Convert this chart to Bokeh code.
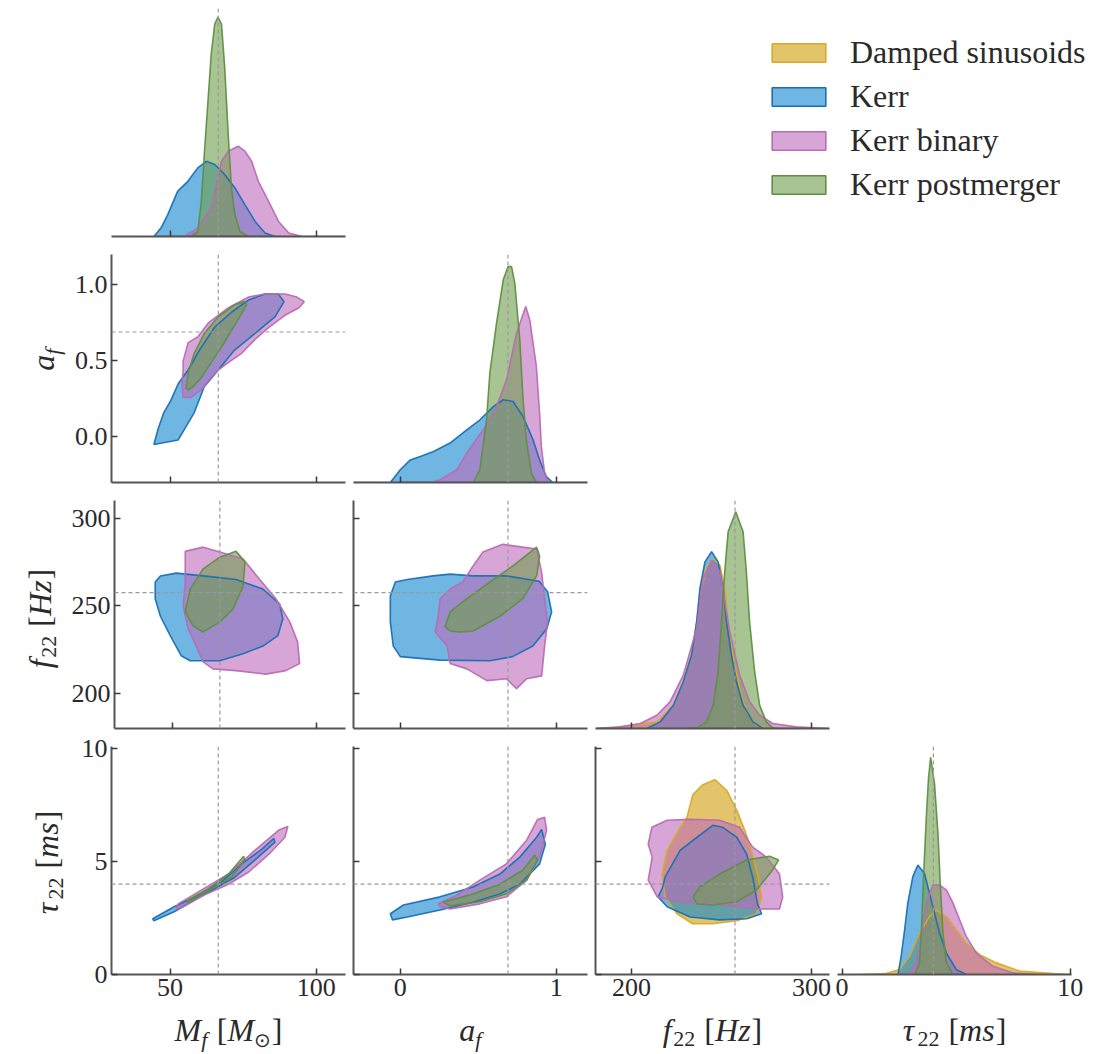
from math import pi
from bokeh.plotting import figure
from bokeh.layouts import row, column
from bokeh.models import (Range1d, Span, Legend, LegendItem, ColumnDataSource,
                          FixedTicker, NumeralTickFormatter)
from bokeh.embed import file_html
from bokeh.resources import INLINE

# ---------------------------------------------------------------- data
SERIES = ["Damped sinusoids", "Kerr", "Kerr binary", "Kerr postmerger"]
PARAMS = ["Mf", "af", "f22", "tau"]

TRUTH_MF = 66.5
TRUTH_AF = 0.69
TRUTH_F22 = 257.5
TRUTH_TAU = 4.0

MF_LIM = [30, 110]
AF_LIM = [-0.3, 1.2]
F22_LIM = [180, 310]
TAU_X_LIM = [-0.2, 10.05]
TAU_Y_LIM = [0, 10.1]

MF_TICKS = [50, 100]
AF_X_TICKS = [0, 1]
AF_Y_TICKS = [0.0, 0.5, 1.0]
F22_X_TICKS = [200, 300]
F22_Y_TICKS = [200, 250, 300]
TAU_X_TICKS = [0, 10]
TAU_Y_TICKS = [0, 5, 10]

# 1-D marginals (relative density, panel height = 1)
MF_KERR_X = [44.5, 46.9, 49.2, 52.6, 56.1, 59.5, 62.4, 65.3, 68.7, 72.2, 75.6, 79.1, 82.5, 86.0]
MF_KERR_D = [0.0, 0.037, 0.095, 0.198, 0.242, 0.301, 0.330, 0.316, 0.272, 0.213, 0.140, 0.066, 0.015, 0.0]
MF_BIN_X = [54.9, 59.5, 64.1, 67.6, 69.9, 73.3, 75.6, 77.9, 80.2, 83.7, 87.1, 90.6, 95.2, 110.0]
MF_BIN_D = [0.0, 0.037, 0.125, 0.330, 0.374, 0.396, 0.374, 0.330, 0.242, 0.154, 0.066, 0.015, 0.0, 0.0]
MF_PM_X = [57.2, 59.5, 60.7, 61.8, 63.0, 64.1, 65.3, 66.4, 67.6, 68.7, 69.9, 71.0, 72.2, 73.9, 76.8]
MF_PM_D = [0.0, 0.022, 0.154, 0.374, 0.595, 0.800, 0.932, 0.962, 0.932, 0.742, 0.448, 0.213, 0.095, 0.022, 0.0]

AF_KERR_X = [-0.064, 0.0, 0.064, 0.128, 0.213, 0.319, 0.426, 0.511, 0.596, 0.660, 0.723, 0.787, 0.851, 0.893, 0.936, 0.978]
AF_KERR_D = [0.0, 0.056, 0.099, 0.114, 0.136, 0.173, 0.231, 0.275, 0.333, 0.363, 0.355, 0.289, 0.187, 0.099, 0.026, 0.0]
AF_BIN_X = [-0.3, 0.2, 0.255, 0.362, 0.426, 0.532, 0.617, 0.681, 0.745, 0.804, 0.830, 0.872, 0.893, 0.904, 0.925, 0.947, 1.2]
AF_BIN_D = [0.0, 0.0, 0.012, 0.056, 0.129, 0.231, 0.333, 0.450, 0.655, 0.772, 0.713, 0.509, 0.304, 0.158, 0.041, 0.0, 0.0]
AF_PM_X = [0.468, 0.510, 0.553, 0.574, 0.617, 0.660, 0.691, 0.713, 0.734, 0.766, 0.787, 0.808, 0.840, 0.872]
AF_PM_D = [0.0, 0.055, 0.275, 0.480, 0.699, 0.889, 0.947, 0.947, 0.874, 0.626, 0.363, 0.187, 0.041, 0.0]

F22_DS_X = [181.0, 190.1, 214.1, 223.3, 228.8, 233.4, 236.2, 239.0, 241.7, 245.4, 249.1, 251.8, 253.7, 256.4, 260.1, 263.8, 269.3, 274.9, 300.0]
F22_DS_D = [0.0, 0.003, 0.029, 0.102, 0.205, 0.322, 0.468, 0.614, 0.709, 0.746, 0.716, 0.614, 0.468, 0.322, 0.175, 0.073, 0.015, 0.003, 0.0]
F22_KERR_X = [208.6, 216.0, 223.3, 228.8, 233.4, 236.2, 238.0, 240.8, 244.5, 248.1, 250.9, 252.8, 255.5, 258.3, 262.0, 267.5, 273.0]
F22_KERR_D = [0.0, 0.029, 0.102, 0.205, 0.322, 0.468, 0.614, 0.731, 0.775, 0.731, 0.614, 0.468, 0.322, 0.205, 0.102, 0.029, 0.0]
F22_BIN_X = [180.0, 193.8, 204.9, 214.1, 221.4, 228.8, 236.2, 239.8, 244.5, 249.1, 254.6, 260.1, 265.6, 271.2, 278.5, 291.4, 310.0]
F22_BIN_D = [0.0, 0.007, 0.022, 0.058, 0.117, 0.234, 0.439, 0.658, 0.738, 0.687, 0.424, 0.234, 0.117, 0.058, 0.022, 0.007, 0.0]
F22_PM_X = [230.0, 236.2, 241.7, 245.4, 248.1, 250.0, 251.8, 253.7, 257.9, 262.0, 263.8, 265.6, 268.4, 271.2, 274.9, 278.5, 282.0]
F22_PM_D = [0.0, 0.003, 0.029, 0.102, 0.249, 0.468, 0.687, 0.863, 0.950, 0.863, 0.687, 0.468, 0.249, 0.102, 0.029, 0.003, 0.0]

TAU_DS_X = [0.9, 1.93, 2.52, 2.96, 3.39, 3.83, 4.13, 4.57, 5.00, 5.44, 6.03, 6.76, 7.78, 9.24, 10.0]
TAU_DS_D = [0.0, 0.004, 0.022, 0.080, 0.182, 0.254, 0.283, 0.254, 0.196, 0.138, 0.087, 0.051, 0.015, 0.004, 0.0]
TAU_KERR_X = [2.45, 2.59, 2.74, 2.88, 3.10, 3.32, 3.61, 3.83, 4.05, 4.27, 4.57, 5.00, 5.44]
TAU_KERR_D = [0.0, 0.080, 0.196, 0.313, 0.429, 0.480, 0.443, 0.356, 0.269, 0.182, 0.094, 0.022, 0.0]
TAU_BIN_X = [2.80, 2.96, 3.25, 3.39, 3.69, 3.98, 4.27, 4.57, 4.86, 5.15, 5.44, 5.88, 6.61, 7.49, 8.51]
TAU_BIN_D = [0.0, 0.007, 0.051, 0.109, 0.313, 0.392, 0.392, 0.371, 0.313, 0.240, 0.167, 0.094, 0.036, 0.007, 0.0]
TAU_PM_X = [3.20, 3.39, 3.47, 3.57, 3.69, 3.79, 3.88, 4.05, 4.20, 4.30, 4.42, 4.57, 4.86]
TAU_PM_D = [0.0, 0.051, 0.182, 0.429, 0.690, 0.865, 0.952, 0.836, 0.618, 0.400, 0.182, 0.051, 0.0]

# 2-D credible regions (outline vertices)
MF_AF_KERR_X = [44.5, 52.8, 58.3, 61.7, 66.5, 72.0, 79.0, 85.9, 89.0, 87.0, 82.4, 76.8, 71.0, 65.2, 60.7, 56.2, 52.8, 50.3, 47.9, 45.9]
MF_AF_KERR_Y = [-0.05, -0.02, 0.16, 0.33, 0.44, 0.57, 0.68, 0.79, 0.89, 0.94, 0.94, 0.90, 0.82, 0.72, 0.59, 0.44, 0.35, 0.24, 0.16, 0.05]
MF_AF_BIN_X = [54.5, 56.2, 59.6, 63.1, 70.0, 76.9, 82.4, 89.3, 93.4, 95.9, 94.1, 89.3, 83.8, 79.0, 74.5, 70.0, 66.5, 63.1, 60.7, 57.2, 54.5, 54.1, 54.5]
MF_AF_BIN_Y = [0.50, 0.62, 0.66, 0.75, 0.85, 0.92, 0.94, 0.94, 0.92, 0.89, 0.85, 0.80, 0.72, 0.64, 0.55, 0.49, 0.44, 0.37, 0.31, 0.26, 0.26, 0.35, 0.44]
MF_AF_PM_X = [55.5, 56.2, 58.3, 61.7, 66.5, 72.1, 75.5, 76.2, 73.8, 71.0, 67.6, 64.1, 60.7, 57.9, 56.2]
MF_AF_PM_Y = [0.32, 0.42, 0.55, 0.68, 0.79, 0.87, 0.89, 0.87, 0.79, 0.70, 0.59, 0.49, 0.39, 0.33, 0.31]

MF_F22_KERR_X = [44.1, 45.9, 51.4, 60.7, 72.1, 81.4, 87.2, 88.3, 86.6, 81.4, 74.5, 66.5, 56.2, 53.1, 49.3, 45.9, 44.1]
MF_F22_KERR_Y = [263.5, 267.0, 268.6, 267.0, 265.0, 259.5, 251.0, 242.5, 233.0, 227.0, 222.6, 218.6, 218.6, 221.5, 233.0, 244.0, 254.0]
MF_F22_BIN_X = [54.5, 60.7, 66.5, 74.5, 80.3, 85.9, 90.7, 93.4, 94.1, 89.3, 82.4, 72.1, 64.1, 60.7, 58.3, 55.5, 53.8, 54.5]
MF_F22_BIN_Y = [281.0, 283.4, 280.6, 276.6, 265.0, 254.0, 240.8, 229.4, 217.0, 213.0, 211.0, 213.0, 214.0, 218.0, 227.0, 236.8, 250.0, 263.5]
MF_F22_PM_X = [54.5, 56.2, 60.7, 66.5, 72.1, 75.2, 74.5, 71.0, 66.5, 60.7, 57.2]
MF_F22_PM_Y = [246.5, 259.5, 271.0, 277.7, 281.0, 275.0, 261.0, 248.0, 240.8, 235.0, 238.5]

MF_TAU_KERR_X = [44.1, 51.4, 60.7, 67.6, 74.5, 81.4, 85.5, 85.9, 79.0, 72.1, 65.2, 58.3, 51.4, 44.5]
MF_TAU_KERR_Y = [2.47, 3.00, 3.57, 4.10, 4.90, 5.55, 6.03, 5.86, 5.07, 4.30, 3.80, 3.30, 2.78, 2.38]
MF_TAU_BIN_X = [52.8, 60.7, 70.0, 79.0, 87.2, 90.3, 89.3, 83.8, 76.9, 70.0, 61.7, 54.5, 52.1]
MF_TAU_BIN_Y = [3.13, 3.74, 4.45, 5.50, 6.40, 6.56, 6.08, 5.33, 4.54, 4.00, 3.52, 3.00, 2.90]
MF_TAU_PM_X = [56.2, 63.1, 70.0, 75.2, 75.5, 71.0, 65.2, 58.3, 56.2]
MF_TAU_PM_Y = [3.30, 3.80, 4.45, 5.24, 5.07, 4.30, 3.88, 3.35, 3.17]

AF_F22_KERR_X = [-0.064, -0.032, 0.045, 0.21, 0.32, 0.466, 0.68, 0.89, 0.944, 0.97, 0.94, 0.85, 0.72, 0.574, 0.255, 0.0, -0.045, -0.064]
AF_F22_KERR_Y = [255.6, 263.5, 265.0, 267.0, 268.0, 267.0, 267.0, 264.0, 258.0, 246.5, 237.0, 227.0, 221.0, 218.6, 219.0, 221.0, 227.0, 240.8]
AF_F22_BIN_X = [0.255, 0.32, 0.40, 0.466, 0.53, 0.657, 0.785, 0.874, 0.906, 0.925, 0.944, 0.925, 0.906, 0.81, 0.745, 0.68, 0.555, 0.427, 0.32, 0.30, 0.223, 0.243]
AF_F22_BIN_Y = [254.0, 259.5, 263.5, 272.6, 280.6, 285.0, 283.4, 282.3, 269.0, 254.0, 240.8, 227.0, 210.0, 208.4, 202.7, 208.4, 207.3, 214.0, 217.0, 227.0, 235.0, 244.0]
AF_F22_PM_X = [0.287, 0.32, 0.427, 0.574, 0.72, 0.874, 0.893, 0.874, 0.785, 0.638, 0.466, 0.383, 0.32]
AF_F22_PM_Y = [238.0, 246.5, 254.0, 263.5, 272.6, 283.4, 278.3, 267.0, 254.0, 244.0, 235.6, 235.0, 235.6]

AF_TAU_KERR_X = [-0.064, 0.02, 0.255, 0.466, 0.638, 0.766, 0.874, 0.906, 0.93, 0.893, 0.766, 0.638, 0.466, 0.255, 0.045, -0.05]
AF_TAU_KERR_Y = [2.69, 3.08, 3.44, 3.88, 4.45, 5.20, 6.08, 6.43, 5.77, 4.90, 4.00, 3.57, 3.20, 2.86, 2.55, 2.42]
AF_TAU_BIN_X = [0.243, 0.364, 0.51, 0.68, 0.81, 0.88, 0.925, 0.938, 0.893, 0.81, 0.68, 0.51, 0.32, 0.255]
AF_TAU_BIN_Y = [3.13, 3.52, 4.18, 4.90, 5.95, 6.87, 6.96, 6.39, 5.20, 4.18, 3.44, 3.13, 2.90, 3.00]
AF_TAU_PM_X = [0.274, 0.466, 0.638, 0.785, 0.862, 0.88, 0.81, 0.68, 0.51, 0.32]
AF_TAU_PM_Y = [3.20, 3.57, 4.00, 4.62, 5.29, 5.07, 4.18, 3.57, 3.22, 3.04]

F22_TAU_DS_X = [246.3, 253.0, 258.5, 262.9, 266.7, 270.0, 272.3, 269.5, 258.5, 245.2, 234.0, 225.3, 218.7, 217.0, 219.8, 227.0, 230.8, 234.1, 239.7]
F22_TAU_DS_Y = [8.63, 8.15, 7.27, 6.39, 5.50, 4.45, 3.44, 2.69, 2.38, 2.25, 2.25, 2.69, 3.44, 4.45, 5.50, 6.50, 6.96, 7.97, 8.41]
F22_TAU_KERR_X = [218.7, 227.0, 236.4, 245.2, 250.7, 258.5, 264.0, 267.3, 270.0, 272.3, 264.0, 249.0, 232.5, 219.8, 214.8, 217.0]
F22_TAU_KERR_Y = [4.32, 5.50, 6.08, 6.61, 6.52, 6.08, 5.33, 4.32, 3.13, 2.69, 2.47, 2.42, 2.55, 3.00, 3.44, 3.79]
F22_TAU_BIN_X = [211.3, 219.8, 232.5, 249.0, 260.0, 267.3, 275.0, 282.2, 284.0, 282.2, 271.2, 260.0, 245.2, 227.0, 214.3, 209.3, 211.5, 209.3]
F22_TAU_BIN_Y = [6.52, 6.83, 6.87, 6.83, 6.52, 5.64, 5.20, 4.45, 3.44, 2.90, 2.90, 3.00, 3.13, 3.22, 3.44, 4.18, 5.20, 5.77]
F22_TAU_PM_X = [234.1, 238.0, 249.0, 264.0, 276.7, 281.7, 278.3, 269.5, 258.5, 245.2, 236.4]
F22_TAU_PM_Y = [3.44, 3.88, 4.45, 5.07, 5.24, 5.07, 4.62, 3.74, 3.22, 3.08, 3.13]

# ---------------------------------------------------------------- styling
FILL = {"Damped sinusoids": "#d09d07", "Kerr": "#0f86d0",
        "Kerr binary": "#be6bbb", "Kerr postmerger": "#6f9d4b"}
LINE = {"Damped sinusoids": "#d6aa2a", "Kerr": "#1b6fb3",
        "Kerr binary": "#b86cb4", "Kerr postmerger": "#5f8f45"}
FILL_ALPHA = 0.6

TRUTH = {"Mf": TRUTH_MF, "af": TRUTH_AF, "f22": TRUTH_F22, "tau": TRUTH_TAU}
XLIM = {"Mf": MF_LIM, "af": AF_LIM, "f22": F22_LIM, "tau": TAU_X_LIM}
YLIM = {"af": AF_LIM, "f22": F22_LIM, "tau": TAU_Y_LIM}
XTICKS = {"Mf": MF_TICKS, "af": AF_X_TICKS, "f22": F22_X_TICKS, "tau": TAU_X_TICKS}
YTICKS = {"af": AF_Y_TICKS, "f22": F22_Y_TICKS, "tau": TAU_Y_TICKS}

MARG = {
    "Mf": [("Kerr", MF_KERR_X, MF_KERR_D), ("Kerr binary", MF_BIN_X, MF_BIN_D),
           ("Kerr postmerger", MF_PM_X, MF_PM_D)],
    "af": [("Kerr", AF_KERR_X, AF_KERR_D), ("Kerr binary", AF_BIN_X, AF_BIN_D),
           ("Kerr postmerger", AF_PM_X, AF_PM_D)],
    "f22": [("Damped sinusoids", F22_DS_X, F22_DS_D), ("Kerr", F22_KERR_X, F22_KERR_D),
            ("Kerr binary", F22_BIN_X, F22_BIN_D), ("Kerr postmerger", F22_PM_X, F22_PM_D)],
    "tau": [("Damped sinusoids", TAU_DS_X, TAU_DS_D), ("Kerr", TAU_KERR_X, TAU_KERR_D),
            ("Kerr binary", TAU_BIN_X, TAU_BIN_D), ("Kerr postmerger", TAU_PM_X, TAU_PM_D)],
}
PAIRS = {
    ("Mf", "af"): [("Kerr", MF_AF_KERR_X, MF_AF_KERR_Y), ("Kerr binary", MF_AF_BIN_X, MF_AF_BIN_Y),
                   ("Kerr postmerger", MF_AF_PM_X, MF_AF_PM_Y)],
    ("Mf", "f22"): [("Kerr", MF_F22_KERR_X, MF_F22_KERR_Y), ("Kerr binary", MF_F22_BIN_X, MF_F22_BIN_Y),
                    ("Kerr postmerger", MF_F22_PM_X, MF_F22_PM_Y)],
    ("Mf", "tau"): [("Kerr", MF_TAU_KERR_X, MF_TAU_KERR_Y), ("Kerr binary", MF_TAU_BIN_X, MF_TAU_BIN_Y),
                    ("Kerr postmerger", MF_TAU_PM_X, MF_TAU_PM_Y)],
    ("af", "f22"): [("Kerr", AF_F22_KERR_X, AF_F22_KERR_Y), ("Kerr binary", AF_F22_BIN_X, AF_F22_BIN_Y),
                    ("Kerr postmerger", AF_F22_PM_X, AF_F22_PM_Y)],
    ("af", "tau"): [("Kerr", AF_TAU_KERR_X, AF_TAU_KERR_Y), ("Kerr binary", AF_TAU_BIN_X, AF_TAU_BIN_Y),
                    ("Kerr postmerger", AF_TAU_PM_X, AF_TAU_PM_Y)],
    ("f22", "tau"): [("Damped sinusoids", F22_TAU_DS_X, F22_TAU_DS_Y), ("Kerr", F22_TAU_KERR_X, F22_TAU_KERR_Y),
                     ("Kerr binary", F22_TAU_BIN_X, F22_TAU_BIN_Y), ("Kerr postmerger", F22_TAU_PM_X, F22_TAU_PM_Y)],
}

# axis titles as segments: (text, style, size px, baseline shift px, gap before px)
TITLES = {
    "Mf": [("M", "it", 32, 0, 0), ("f", "it", 22, -6, 0), ("[", "rm", 32, 0, 9), ("M", "it", 32, 0, 0),
           ("\u2299", "sym", 20, -6, 0), ("]", "rm", 32, 0, 1)],
    "af": [("a", "it", 32, 0, 0), ("f", "it", 22, -6, 0)],
    "f22": [("f", "it", 32, 0, 0), ("22", "rm", 22, -6, 1), ("[", "rm", 32, 0, 9), ("Hz", "it", 32, 0, 0),
            ("]", "rm", 32, 0, 1)],
    "tau": [("\u03c4", "it", 32, 0, 0), ("22", "rm", 22, -6, 0), ("[", "rm", 32, 0, 9), ("ms", "it", 32, 0, 0),
            ("]", "rm", 32, 0, 1)],
}
CHAR_W = {
    "it": {"M": 0.833, "f": 0.30, "a": 0.5, "H": 0.722, "z": 0.389, "m": 0.722, "s": 0.389, "\u03c4": 0.46},
    "rm": {"[": 0.333, "]": 0.333, "2": 0.5},
    "sym": {"\u2299": 0.84},
}
# distance from baseline to the middle of the text box, in em
MID_OFFSET = {"it": 0.3375, "rm": 0.3375, "sym": 0.346}
SERIF = "Liberation Serif"
TEXT_COLOR = "#2a2a2a"

# ---------------------------------------------------------------- layout (px)
FRAME_W, FRAME_H = 234, 228
STRIP_W = 68
COL_LEFT = [43, 6, 6, 6]
COL_RIGHT = [2, 2, 2, 20]
ROW_TOP = [8, 0, 0, 14]
ROW_BOTTOM = [18, 18, 4, 37]
XSTRIP_H = 43
TOTAL_W = STRIP_W + sum(COL_LEFT) + 4 * FRAME_W + sum(COL_RIGHT)
XTITLE_BASE = 14                       # baseline height inside the x-title strip
YTITLE_POS = {"af": (53, 123), "f22": (50, 110), "tau": (57, 112)}  # (baseline x, centre above frame bottom)
LEGEND_LEFT = 765
LEGEND_TOP = 34


def title_source(segs, cx, cy, rotated):
    widths = [sum(CHAR_W[st].get(ch, 0.5) for ch in t) * sz + gap for t, st, sz, dy, gap in segs]
    pos = -sum(widths) / 2.0
    d = dict(x=[], y=[], text=[], font=[], size=[], style=[], angle=[])
    for (t, st, sz, dy, gap), w in zip(segs, widths):
        start = pos + gap
        mid = MID_OFFSET[st] * sz
        if rotated:
            d["x"].append(cx - dy - mid)
            d["y"].append(cy + start)
            d["angle"].append(pi / 2)
        else:
            d["x"].append(cx + start)
            d["y"].append(cy + dy + mid)
            d["angle"].append(0.0)
        d["text"].append(t)
        d["font"].append("DejaVu Sans" if st == "sym" else SERIF)
        d["size"].append(f"{sz}px")
        d["style"].append("italic" if st == "it" else "normal")
        pos += w
    return ColumnDataSource(d)


def strip_figure(w, h, top=0, bottom=0):
    s = figure(width=w, height=h + top + bottom, x_range=Range1d(0, w), y_range=Range1d(0, h),
               output_backend="svg", toolbar_location=None,
               min_border_left=0, min_border_right=0, min_border_top=top, min_border_bottom=bottom)
    s.xaxis.visible = False
    s.yaxis.visible = False
    s.grid.visible = False
    s.outline_line_color = None
    return s


def draw_title(s, src):
    s.text(x="x", y="y", text="text", source=src, angle="angle",
           text_font="font", text_font_size="size", text_font_style="style",
           text_align="left", text_baseline="middle", text_color=TEXT_COLOR)


def style_axis(ax, ticks, show_labels, fmt=None):
    ax.ticker = FixedTicker(ticks=ticks)
    ax.minor_tick_line_color = None
    ax.major_tick_in = 6
    ax.major_tick_out = 0
    ax.major_tick_line_color = "#3a3a3a"
    ax.major_tick_line_width = 1.5
    ax.axis_line_color = "#555555"
    ax.axis_line_width = 2
    ax.axis_label = None
    if fmt is not None:
        ax.formatter = fmt
    if show_labels:
        ax.major_label_text_font = SERIF
        ax.major_label_text_font_size = "26px"
        ax.major_label_text_color = TEXT_COLOR
        ax.major_label_standoff = 4
    else:
        ax.major_label_text_font_size = "1px"
        ax.major_label_text_color = None
        ax.major_label_standoff = 0


rows = []
for r, py in enumerate(PARAMS):
    cells = []
    top = ROW_TOP[r]
    bottom = ROW_BOTTOM[r]
    if r > 0:
        strip = strip_figure(STRIP_W, FRAME_H, top=top, bottom=bottom)
        cx, cy = YTITLE_POS[py]
        draw_title(strip, title_source(TITLES[py], cx, cy, True))
        cells.append(strip)
    for c, px in enumerate(PARAMS[:r + 1]):
        diag = r == c
        left = COL_LEFT[c] + (STRIP_W if r == 0 else 0)
        p = figure(width=left + FRAME_W + COL_RIGHT[c], height=top + FRAME_H + bottom,
                   x_range=Range1d(*XLIM[px]),
                   y_range=Range1d(0, 1) if diag else Range1d(*YLIM[py]),
                   output_backend="svg", toolbar_location=None,
                   min_border_left=left, min_border_right=COL_RIGHT[c],
                   min_border_top=top, min_border_bottom=bottom)
        p.grid.visible = False
        p.outline_line_color = None
        p.background_fill_color = "white"
        p.border_fill_color = "white"

        layers = MARG[px] if diag else PAIRS[(px, py)]
        for name, xs, ys in layers:
            p.patch(xs, ys, fill_color=FILL[name], fill_alpha=FILL_ALPHA, line_color=None)
        for name, xs, ys in layers:
            p.patch(xs, ys, fill_color=None, line_color=LINE[name], line_width=1.6, line_alpha=0.95)

        p.add_layout(Span(location=TRUTH[px], dimension="height", line_color="#9a9a9a",
                          line_dash="4 3", line_width=1.2))
        if not diag:
            p.add_layout(Span(location=TRUTH[py], dimension="width", line_color="#9a9a9a",
                              line_dash="4 3", line_width=1.2))

        style_axis(p.xaxis[0], XTICKS[px], r == 3)
        if diag:
            p.yaxis.visible = False
        else:
            fmt = NumeralTickFormatter(format="0.0") if py == "af" else None
            style_axis(p.yaxis[0], YTICKS[py], c == 0, fmt)
        cells.append(p)

    if r == 0:
        # legend panel in the empty upper-right area (same borders as its row neighbour)
        used = STRIP_W + COL_LEFT[0] + FRAME_W + COL_RIGHT[0]
        offset = LEGEND_TOP - top
        pl = figure(width=TOTAL_W - used, height=top + FRAME_H + bottom,
                    x_range=Range1d(0, 1), y_range=Range1d(0, 1),
                    output_backend="svg", toolbar_location=None,
                    min_border_left=LEGEND_LEFT - used - offset, min_border_top=top,
                    min_border_right=0, min_border_bottom=bottom)
        pl.xaxis.visible = False
        pl.yaxis.visible = False
        pl.grid.visible = False
        pl.outline_line_color = None
        items = []
        for name in SERIES:
            proxy = pl.patch([-1.0], [-1.0], fill_color=FILL[name], fill_alpha=FILL_ALPHA,
                             line_color=LINE[name], line_width=1.6)
            items.append(LegendItem(label=name, renderers=[proxy]))
        legend = Legend(items=items, location="top_left", orientation="vertical",
                        glyph_width=67, glyph_height=23, label_standoff=18, spacing=7,
                        padding=0, margin=offset, border_line_color=None, background_fill_alpha=0,
                        label_text_font=SERIF, label_text_font_size="32px",
                        label_text_color=TEXT_COLOR)
        pl.add_layout(legend)
        cells.append(pl)
    rows.append(row(*cells, spacing=0))

# x-axis titles strip under the bottom row
xstrip = strip_figure(TOTAL_W, XSTRIP_H)
x0 = STRIP_W
for c, px in enumerate(PARAMS):
    x0 += COL_LEFT[c]
    draw_title(xstrip, title_source(TITLES[px], x0 + FRAME_W / 2.0, XTITLE_BASE, False))
    x0 += FRAME_W + COL_RIGHT[c]
rows.append(xstrip)

layout = column(*rows, spacing=0)
open("out.html", "w").write(file_html(layout, INLINE))
